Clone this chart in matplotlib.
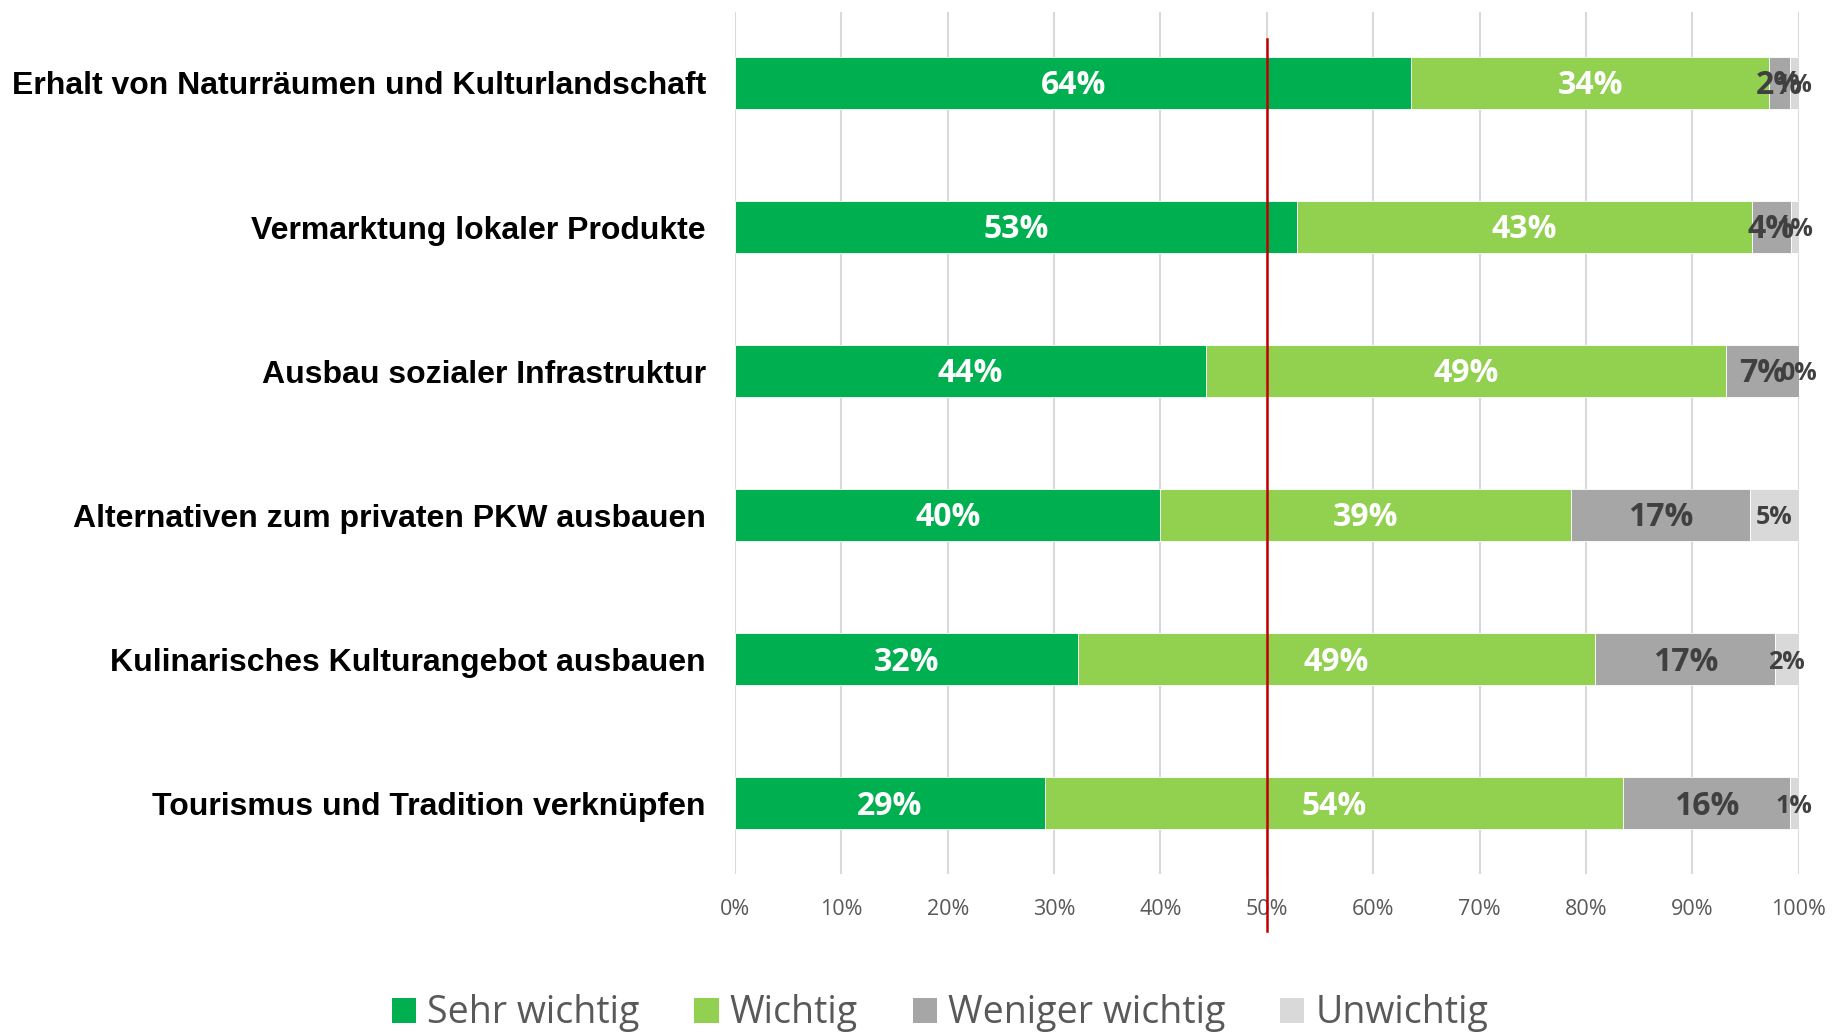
import matplotlib.pyplot as plt
from matplotlib.patches import Patch
from matplotlib.transforms import blended_transform_factory

# Categories (top to bottom) and shares per answer
categories = [
    "Erhalt von Naturräumen und Kulturlandschaft",
    "Vermarktung lokaler Produkte",
    "Ausbau sozialer Infrastruktur",
    "Alternativen zum privaten PKW ausbauen",
    "Kulinarisches Kulturangebot ausbauen",
    "Tourismus und Tradition verknüpfen",
]
sehr_wichtig = [63.6, 52.8, 44.3, 40.0, 32.2, 29.1]
wichtig = [33.6, 42.8, 48.9, 38.6, 48.7, 54.4]
weniger_wichtig = [2.0, 3.7, 6.8, 16.8, 16.9, 15.7]
unwichtig = [0.8, 0.7, 0.0, 4.6, 2.2, 0.8]
series_names = ["Sehr wichtig", "Wichtig", "Weniger wichtig", "Unwichtig"]
x_ticks = [0, 10, 20, 30, 40, 50, 60, 70, 80, 90, 100]

colors = ["#00b050", "#92d050", "#a6a6a6", "#d9d9d9"]
label_colors = ["white", "white", "#404040", "#404040"]
label_sizes = [23, 23, 23, 18]

fig = plt.figure(figsize=(18.4, 10.34), dpi=100)
ax = fig.add_axes([0.3995, 0.155, 0.578, 0.833])

series = [sehr_wichtig, wichtig, weniger_wichtig, unwichtig]
ypos = list(range(len(categories)))
left = [0.0] * len(categories)
for vals, col, lcol, lsize, name in zip(series, colors, label_colors, label_sizes, series_names):
    ax.barh(ypos, vals, left=left, height=0.36, color=col, edgecolor="white",
            linewidth=0.6, label=name, zorder=2)
    for y, v, l in zip(ypos, vals, left):
        ax.text(l + v / 2, y + 0.02, f"{v:.0f}%", ha="center", va="center",
                color=lcol, fontsize=lsize, fontweight="bold",
                family=["Open Sans", "DejaVu Sans"], zorder=4)
    left = [l + v for l, v in zip(left, vals)]

ax.set_xlim(0, 100)
ax.set_ylim(5.49, -0.49)
ax.set_xticks(x_ticks)
ax.set_xticklabels([f"{t}%" for t in x_ticks], color="#595959", fontsize=15.5,
                   family=["Open Sans", "DejaVu Sans"])
ax.set_yticks(ypos)
ax.set_yticklabels(categories, fontsize=23, fontweight="bold",
                   family=["Liberation Sans", "DejaVu Sans"])
ax.tick_params(axis="y", length=0, pad=21)
ax.tick_params(axis="x", length=0, pad=18)
ax.grid(axis="x", color="#d9d9d9", linewidth=1.5, zorder=0)
for s in ax.spines.values():
    s.set_visible(False)

# 50% reference line
trans = blended_transform_factory(ax.transData, ax.transAxes)
ax.plot([50, 50], [0.969, -0.066], transform=trans, color="#c00000",
        linewidth=1.8, clip_on=False, zorder=5)

handles = [Patch(facecolor=c, edgecolor="none") for c in colors]
fig.legend(handles, series_names, loc="center", bbox_to_anchor=(0.511, 0.02),
           ncol=4, frameon=False, handlelength=0.65, handleheight=0.65,
           handletextpad=0.3, columnspacing=1.45,
           prop={"family": ["Open Sans", "DejaVu Sans"], "size": 27},
           labelcolor="#595959")

fig.savefig("out.png", dpi=100)
